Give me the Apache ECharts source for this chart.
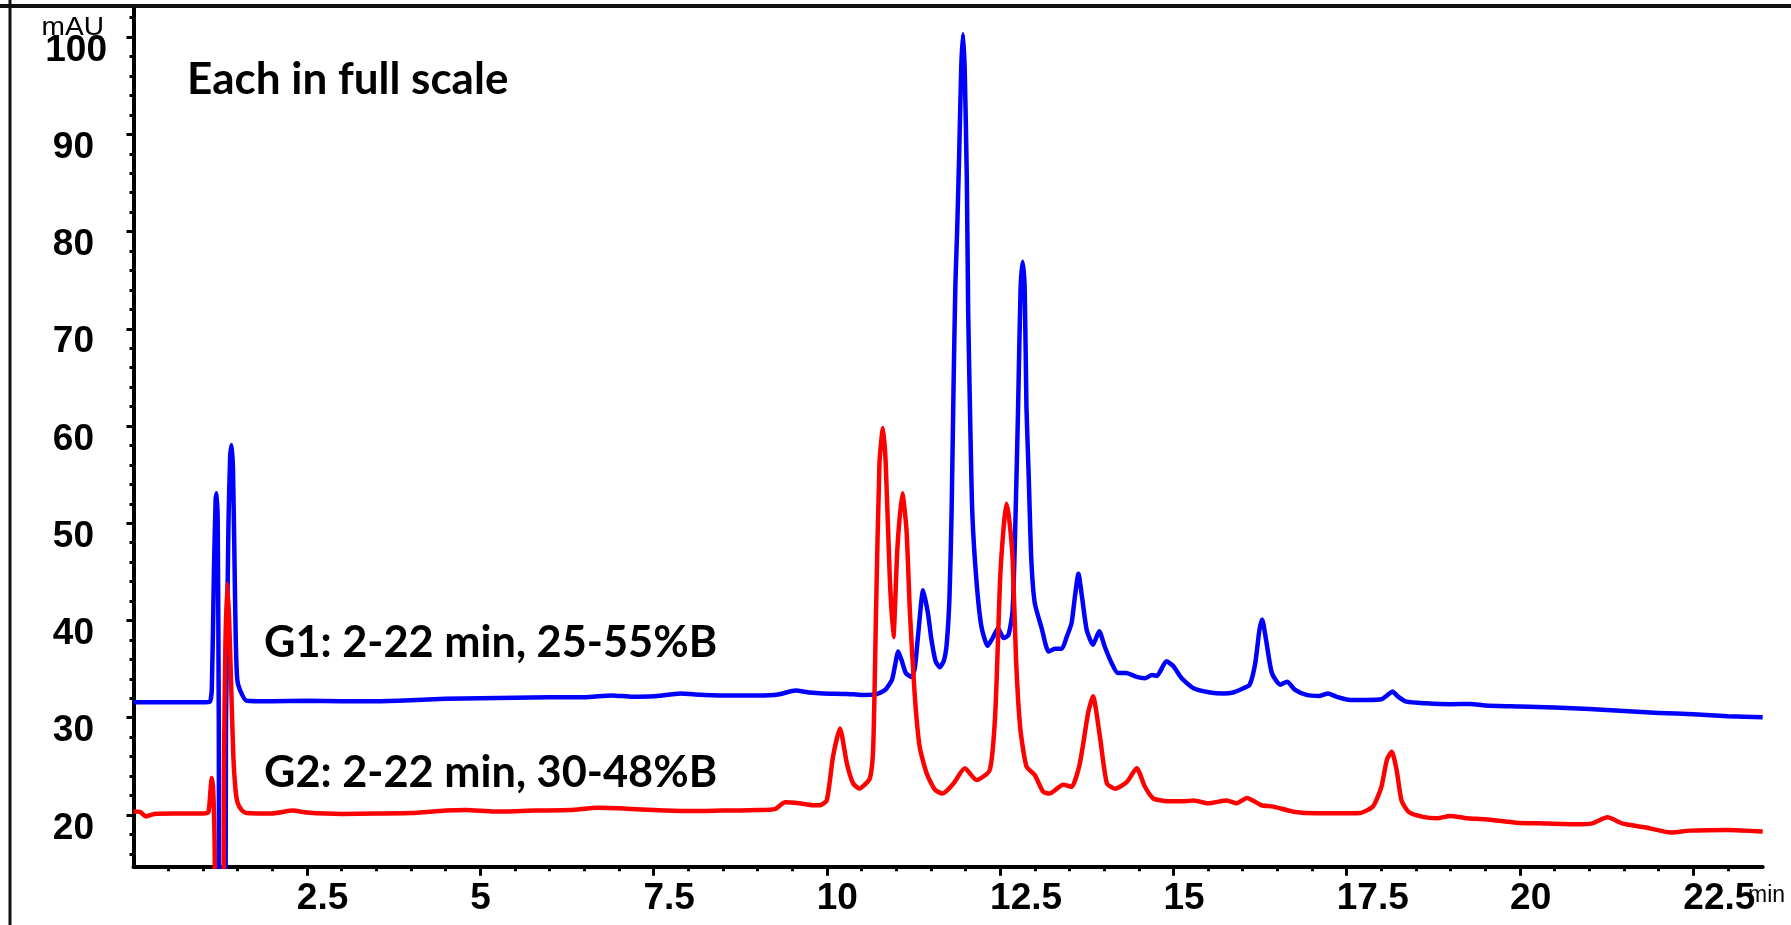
<!DOCTYPE html>
<html><head><meta charset="utf-8">
<script src="https://cdn.jsdelivr.net/npm/echarts@6/dist/echarts.min.js"></script>
<style>html,body{margin:0;padding:0;background:#fff}#c{width:1791px;height:925px}</style>
</head><body><div id="c"></div>
<script>
// G1 (blue) trace: retention time (min) and absorbance (mAU)
const g1Time = [0,0.5,1.0,1.1,1.13,1.16,1.185,1.2,1.215,1.23,1.245,1.315,1.335,1.37,1.395,1.416,1.435,1.455,1.475,1.497,1.536,1.63,2.0,2.5,3.0,3.5,4.0,4.5,5.0,5.5,6.0,6.5,6.9,7.2,7.5,7.9,8.1,8.5,9.0,9.3,9.55,9.75,9.95,10.3,10.5,10.7,10.84,10.94,10.98,11.03,11.08,11.14,11.22,11.27,11.32,11.39,11.46,11.51,11.57,11.63,11.69,11.73,11.77,11.8,11.83,11.855,11.88,11.91,11.94,11.965,11.99,12.02,12.04,12.07,12.1,12.16,12.23,12.32,12.4,12.47,12.55,12.62,12.68,12.72,12.76,12.795,12.825,12.855,12.88,12.91,12.95,13.0,13.1,13.2,13.29,13.39,13.46,13.53,13.58,13.63,13.68,13.75,13.84,13.93,14.01,14.11,14.2,14.32,14.47,14.59,14.69,14.76,14.9,15.0,15.12,15.29,15.53,15.72,15.86,16.01,16.1,16.18,16.24,16.28,16.33,16.42,16.54,16.64,16.75,16.92,17.11,17.23,17.35,17.55,17.79,18.0,18.1,18.16,18.24,18.36,18.65,18.99,19.28,19.5,20.0,20.5,21.0,21.5,22.0,22.5,23.0,23.5];
const g1Abs = [31.6,31.6,31.6,31.65,33,45,52.5,53.1,50,30,0,0,30,50,57,58.05,55.5,47,38,33.9,32.85,31.75,31.7,31.75,31.7,31.7,31.8,31.95,32.0,32.05,32.1,32.1,32.3,32.15,32.2,32.5,32.4,32.3,32.3,32.4,32.8,32.6,32.5,32.45,32.35,32.4,32.85,33.9,35.2,36.8,35.9,34.6,34.2,35.1,38.7,43.1,40.7,38.0,35.8,35.2,35.9,37.6,42.4,51.0,64.7,74.5,80,88,97,100.3,96.5,85.4,71.6,60.1,50.9,44.0,39.4,37.4,38.3,39.2,38.2,38.5,41,50,62,74,76.9,74,62,55.5,46.3,41.8,39.2,36.8,37.1,37.1,38.3,39.7,42.5,44.8,42.5,39.0,37.5,38.9,37.3,35.6,34.6,34.6,34.2,34.06,34.4,34.3,35.8,35.3,34.06,33.03,32.6,32.5,32.6,33.03,33.4,35.6,39.0,40.1,38.3,34.6,33.4,33.7,32.9,32.35,32.24,32.5,32.17,31.83,31.83,31.9,32.4,32.7,32.17,31.66,31.49,31.4,31.42,31.25,31.15,31.05,30.9,30.7,30.5,30.35,30.15,30.05];
// G2 (red) trace
const g2Time = [0,0.1,0.18,0.3,0.6,1.0,1.08,1.11,1.128,1.15,1.17,1.195,1.285,1.305,1.325,1.353,1.38,1.41,1.44,1.47,1.5,1.56,1.63,2.0,2.3,2.5,3.0,3.5,4.0,4.5,4.8,5.2,5.8,6.3,6.7,7.0,7.5,8.0,8.5,9.0,9.25,9.4,9.6,9.8,9.9,10.0,10.09,10.19,10.29,10.38,10.47,10.62,10.67,10.71,10.76,10.81,10.85,10.91,10.96,11.02,11.09,11.15,11.2,11.27,11.34,11.44,11.56,11.67,11.83,11.99,12.16,12.35,12.43,12.5,12.55,12.59,12.63,12.68,12.73,12.79,12.88,13.0,13.12,13.21,13.41,13.53,13.65,13.77,13.84,13.94,14.04,14.16,14.33,14.47,14.59,14.71,14.95,15.14,15.29,15.5,15.77,15.91,16.06,16.27,16.44,16.73,17.07,17.31,17.69,17.88,18.0,18.08,18.15,18.22,18.29,18.39,18.6,18.8,18.99,19.23,19.5,19.95,20.28,20.82,21.04,21.26,21.47,21.8,22.18,22.45,23.0,23.5];
const g2Abs = [20.35,20.3,19.85,20.1,20.15,20.15,20.3,22.5,23.8,22.5,17,0,0,25,37.3,43.8,40,33,26,22.7,21.3,20.5,20.2,20.15,20.45,20.25,20.1,20.15,20.2,20.45,20.5,20.35,20.45,20.5,20.75,20.7,20.5,20.4,20.45,20.5,20.6,21.3,21.2,21.0,21.0,21.5,26.0,28.9,25.3,23.25,22.73,23.76,27.0,40.7,56.2,59.8,56.2,44.2,38.3,47.6,53.1,49.3,40.7,32.2,27.0,24.3,22.6,22.2,23.25,24.8,23.6,24.6,30.4,44.2,49.5,52.0,50.5,46.5,36,29,25.0,24.1,22.4,22.2,23.1,22.9,25.3,30.5,32.2,28.06,23.26,22.7,23.4,24.8,22.9,21.7,21.4,21.4,21.5,21.2,21.5,21.2,21.75,21.0,20.86,20.34,20.17,20.17,20.2,20.9,22.9,25.7,26.5,24.6,21.5,20.34,19.8,19.66,19.9,19.66,19.55,19.21,19.14,19.04,19.14,19.76,19.14,18.73,18.2,18.39,18.46,18.3];

const xMajorTicks = [2.5,5,7.5,10,12.5,15,17.5,20,22.5];
const xMinorTicks = [0.5,1,1.5,2,3,3.5,4,4.5,5.5,6,6.5,7,8,8.5,9,9.5,10.5,11,11.5,12,13,13.5,14,14.5,15.5,16,16.5,17,18,18.5,19,19.5,20.5,21,21.5,22,23];
const yMajorTicks = [20,30,40,50,60,70,80,90,100];
const yMinorTicks = [16,18,22,24,26,28,32,34,36,38,42,44,46,48,52,54,56,58,62,64,66,68,72,74,76,78,82,84,86,88,92,94,96,98,102];

const xRange = [0, 23.5];
const yRange = [14.68, 103.2];

const chart = echarts.init(document.getElementById('c'), null, {renderer: 'canvas'});
const pair = (t, a) => t.map((x, i) => [x, a[i]]);
const labelFont = {fontFamily: 'Liberation Sans', fontWeight: 'bold', fontSize: 37, color: '#000'};
const annFont = 'Lato';

chart.setOption({
  animation: false,
  backgroundColor: '#fff',
  grid: {left: 133.5, top: 6, right: 28.3, bottom: 58.3, containLabel: false},
  xAxis: [{
    type: 'value', min: xRange[0], max: xRange[1], position: 'bottom',
    axisLine: {show: true, onZero: false, lineStyle: {color: '#000', width: 4}},
    axisTick: {show: true, customValues: xMajorTicks, length: 9, lineStyle: {color: '#000', width: 3}},
    axisLabel: Object.assign({show: true, customValues: xMajorTicks, margin: 14, align: 'left', padding: [0, 0, 0, -10]}, labelFont),
    splitLine: {show: false}
  }, {
    type: 'value', min: xRange[0], max: xRange[1], position: 'bottom',
    axisLine: {show: false, onZero: false},
    axisTick: {show: true, customValues: xMinorTicks, length: 4.5, lineStyle: {color: '#000', width: 3}},
    axisLabel: {show: false},
    splitLine: {show: false}
  }],
  yAxis: [{
    type: 'value', min: yRange[0], max: yRange[1], position: 'left',
    axisLine: {show: true, onZero: false, lineStyle: {color: '#000', width: 4}},
    axisTick: {show: true, customValues: yMajorTicks, length: 7, lineStyle: {color: '#000', width: 3}},
    axisLabel: {
      show: true, customValues: yMajorTicks, margin: 26.5, verticalAlign: 'middle', align: 'right',
      formatter: v => (v === 100 ? '{t|' : '{n|') + v + '}',
      rich: {
        n: Object.assign({padding: [26.7, 13, 0, 0]}, labelFont),
        t: Object.assign({padding: [26.7, 0, 0, 0]}, labelFont)
      }
    },
    splitLine: {show: false}
  }, {
    type: 'value', min: yRange[0], max: yRange[1], position: 'left',
    axisLine: {show: false, onZero: false},
    axisTick: {show: true, customValues: yMinorTicks, length: 4, lineStyle: {color: '#000', width: 3}},
    axisLabel: {show: false},
    splitLine: {show: false}
  }],
  series: [{
    name: 'G1', type: 'line', xAxisIndex: 0, yAxisIndex: 0,
    data: pair(g1Time, g1Abs), showSymbol: false, symbol: 'none',
    smooth: 0.2, clip: true,
    lineStyle: {color: '#0000ff', width: 4.5, join: 'round'}, z: 3
  }, {
    name: 'G2', type: 'line', xAxisIndex: 0, yAxisIndex: 0,
    data: pair(g2Time, g2Abs), showSymbol: false, symbol: 'none',
    smooth: 0.2, clip: true,
    lineStyle: {color: '#ff0000', width: 4.5, join: 'round'}, z: 4
  }],
  graphic: [
    {type: 'line', shape: {x1: 0, y1: 6, x2: 1791, y2: 6}, style: {stroke: '#111', lineWidth: 4}, z: 10},
    {type: 'line', shape: {x1: 10, y1: 0, x2: 10, y2: 925}, style: {stroke: '#111', lineWidth: 3}, z: 10},
    {type: 'text', left: 187, top: 58, style: {text: 'Each in full scale', font: 'bold 44px ' + annFont, fill: '#000'}},
    {type: 'text', left: 264, top: 622, style: {text: 'G1: 2-22 min, 25-55%B', font: 'bold 43.3px ' + annFont, fill: '#000'}},
    {type: 'text', left: 264, top: 752, style: {text: 'G2: 2-22 min, 30-48%B', font: 'bold 43.3px ' + annFont, fill: '#000'}},
    {type: 'text', x: 104, y: 15, scaleX: 1.08, style: {text: 'mAU', font: '26px Liberation Sans', fill: '#000', align: 'right', verticalAlign: 'top'}, z: 5},
    {type: 'text', left: 1748, top: 884, style: {text: 'min', font: '23px Liberation Sans', fill: '#000'}}
  ]
});
</script></body></html>
